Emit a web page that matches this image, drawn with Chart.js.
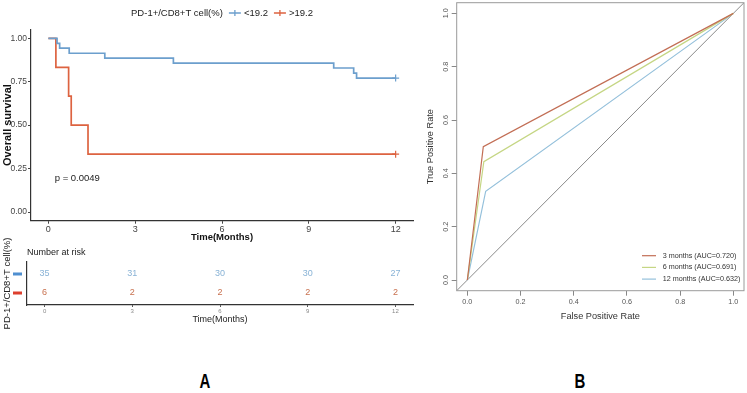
<!DOCTYPE html>
<html>
<head>
<meta charset="utf-8">
<script src="https://cdn.jsdelivr.net/npm/chart.js@4.4.1/dist/chart.umd.min.js"></script>
<style>
  body { margin: 0; background: #fff; width: 747px; height: 393px; position: relative; overflow: hidden;
         font-family: 'Liberation Sans', Arial, sans-serif; }
  .box { position: absolute; }
  .tag { position: absolute; font-weight: bold; font-size: 20px; color: #000;
         transform: translate(-50%, -50%) scaleX(0.75); }
</style>
</head>
<body>
<div class="box" style="left:0;top:0;width:420px;height:245px"><canvas id="km"></canvas></div>
<div class="box" style="left:0;top:225px;width:420px;height:107px"><canvas id="risk"></canvas></div>
<div class="box" style="left:420px;top:0;width:327px;height:330px"><canvas id="roc"></canvas></div>
<div class="tag" style="left:205px;top:381px">A</div>
<div class="tag" style="left:580px;top:381px">B</div>
<script>
// ---- panel A: survival curves ----
const groupNames = ['<19.2', '>19.2'];
const blueTimes = [0, 0.3, 0.39, 0.72, 1.95, 4.32, 9.86, 10.55, 10.65, 12];
const blueSurv  = [1, 0.971, 0.943, 0.914, 0.886, 0.857, 0.829, 0.8, 0.771, 0.771];
const redTimes  = [0, 0.26, 0.7, 0.79, 1.37, 12];
const redSurv   = [1, 0.833, 0.667, 0.5, 0.333, 0.333];
const survTicks = [0, 0.25, 0.5, 0.75, 1];
const survTickLabels = ['0.00', '0.25', '0.50', '0.75', '1.00'];
const monthTicks = [0, 3, 6, 9, 12];
const pValue = 'p = 0.0049';

// number at risk
const riskTimes = [0, 3, 6, 9, 12];
const riskBlue = [35, 31, 30, 30, 27];
const riskRed  = [6, 2, 2, 2, 2];

// ---- panel B: ROC ----
const rocTicks = [0, 0.2, 0.4, 0.6, 0.8, 1];
const rocTickLabels = ['0.0', '0.2', '0.4', '0.6', '0.8', '1.0'];
const fpr3  = [0, 0.06, 1];   const tpr3  = [0, 0.5, 1];
const fpr6  = [0, 0.062, 1];  const tpr6  = [0, 0.444, 1];
const fpr12 = [0, 0.069, 1];  const tpr12 = [0, 0.333, 1];
const rocLabels = ['3 months (AUC=0.720)', '6 months (AUC=0.691)', '12 months (AUC=0.632)'];
const diagLine = [-0.04, 1.04];

const FONT = "'Liberation Sans', Arial, sans-serif";
Chart.defaults.font.family = FONT;
Chart.defaults.color = '#444';

const BLUE = '#6C9FCD', RED = '#DD6340';
const pts = (xs, ys) => xs.map((x, i) => ({ x, y: ys[i] }));
const fixTicks = vals => scale => { scale.ticks = vals.map(v => ({ value: v })); };
const base = { responsive: true, maintainAspectRatio: false, animation: false, devicePixelRatio: 1 };

const kmExtras = {
  id: 'kmExtras',
  afterDraw(chart) {
    const { ctx, scales: { x, y } } = chart;
    ctx.save();
    ctx.font = '9.5px ' + FONT;
    ctx.textBaseline = 'middle';
    ctx.fillStyle = '#222';
    const title = 'PD-1+/CD8+T cell(%)';
    const sym = 12, gap = 3, space = 6;
    const items = chart.data.datasets.map(d => ({ text: d.label, color: d.borderColor }));
    let w = ctx.measureText(title).width;
    items.forEach(it => { w += space + sym + gap + ctx.measureText(it.text).width; });
    let lx = 222 - w / 2;
    const ly = 13;
    ctx.fillText(title, lx, ly);
    lx += ctx.measureText(title).width;
    items.forEach(it => {
      lx += space;
      ctx.strokeStyle = it.color;
      ctx.lineWidth = 1.3;
      ctx.beginPath();
      ctx.moveTo(lx, ly); ctx.lineTo(lx + sym, ly);
      ctx.moveTo(lx + sym / 2, ly - 3); ctx.lineTo(lx + sym / 2, ly + 3);
      ctx.stroke();
      lx += sym + gap;
      ctx.fillText(it.text, lx, ly);
      lx += ctx.measureText(it.text).width;
    });
    // p value
    ctx.fillText(pValue, x.getPixelForValue(0.22), y.getPixelForValue(0.196));
    ctx.restore();
  }
};

new Chart(document.getElementById('km'), {
  type: 'line',
  data: {
    datasets: [
      { label: groupNames[0], data: pts(blueTimes, blueSurv), borderColor: BLUE },
      { label: groupNames[1], data: pts(redTimes, redSurv), borderColor: RED }
    ].map(d => Object.assign(d, {
      stepped: true, borderWidth: 1.7, fill: false,
      pointStyle: 'cross', pointBorderColor: d.borderColor, pointBorderWidth: 1.2,
      pointRadius: c => c.dataIndex === c.dataset.data.length - 1 ? 3.5 : 0
    }))
  },
  options: {
    ...base,
    layout: { padding: { top: 29.6, left: 0, right: 7, bottom: 0 } },
    plugins: { legend: { display: false }, tooltip: { enabled: false } },
    scales: {
      x: {
        type: 'linear', min: -0.6, max: 12.6,
        afterBuildTicks: fixTicks(monthTicks),
        afterFit: s => { s.height = 24.3; },
        ticks: { font: { size: 9 }, padding: 0, color: '#444' },
        grid: { display: true, drawOnChartArea: false, tickLength: 3, color: '#444' },
        border: { display: true, color: '#333', width: 1.2 },
        title: { display: true, text: 'Time(Months)', color: '#111',
                 font: { size: 9.5, weight: 'bold' }, padding: { top: 0, bottom: 1.5 } }
      },
      y: {
        type: 'linear', min: -0.05, max: 1.05,
        afterBuildTicks: fixTicks(survTicks),
        afterFit: s => { s.width = 31; },
        ticks: { font: { size: 8.5 }, padding: 1, color: '#444',
                 callback: (v, i) => survTickLabels[i] },
        grid: { display: true, drawOnChartArea: false, tickLength: 3, color: '#444' },
        border: { display: true, color: '#333', width: 1.2 },
        title: { display: true, text: 'Overall survival', color: '#111',
                 font: { size: 11, weight: 'bold' }, padding: { top: 1.5, bottom: 0 } }
      }
    }
  },
  plugins: [kmExtras]
});

// ---- risk table ----
const riskExtras = {
  id: 'riskExtras',
  afterDatasetsDraw(chart) {
    const { ctx, chartArea: a, scales: { y } } = chart;
    ctx.save();
    ctx.textAlign = 'center';
    ctx.textBaseline = 'middle';
    ctx.font = '9px ' + FONT;
    chart.data.datasets.forEach((d, di) => {
      const meta = chart.getDatasetMeta(di);
      ctx.fillStyle = d.textColor;
      meta.data.forEach((p, i) => ctx.fillText(String(d.counts[i]), p.x, p.y));
      // coloured key on the y axis
      ctx.fillStyle = d.keyColor;
      ctx.fillRect(13, y.getPixelForValue(d.row) - 1.5, 9, 3);
    });
    ctx.textAlign = 'left';
    ctx.fillStyle = '#222';
    ctx.fillText('Number at risk', a.left, a.top - 9);
    ctx.restore();
  }
};

const riskSets = [
  { counts: riskBlue, row: 2, textColor: '#89B3D6', keyColor: '#4F8FD0' },
  { counts: riskRed,  row: 1, textColor: '#C8714F', keyColor: '#DD3F2E' }
];

new Chart(document.getElementById('risk'), {
  type: 'line',
  data: {
    datasets: riskSets.map(r => Object.assign({}, r, {
      data: riskTimes.map(t => ({ x: t, y: r.row })),
      showLine: false, pointRadius: 0
    }))
  },
  options: {
    ...base,
    layout: { padding: { top: 37, left: 0, right: 7, bottom: 0 } },
    plugins: { legend: { display: false }, tooltip: { enabled: false } },
    scales: {
      x: {
        type: 'linear', min: -0.6, max: 12.6,
        afterBuildTicks: fixTicks(riskTimes),
        afterFit: s => { s.height = 27; },
        ticks: { font: { size: 6 }, padding: 1, color: '#888' },
        grid: { display: true, drawOnChartArea: false, tickLength: 2, color: '#555' },
        border: { display: true, color: '#333', width: 1.2 },
        title: { display: true, text: 'Time(Months)', color: '#222',
                 font: { size: 9 }, padding: { top: 0, bottom: 6.6 } }
      },
      y: {
        type: 'linear', min: 0.37, max: 2.63,
        afterFit: s => { s.width = 27; },
        ticks: { display: false },
        grid: { display: false },
        border: { display: true, color: '#333', width: 1.2 },
        title: { display: true, text: 'PD-1+/CD8+T cell(%)', color: '#222',
                 font: { size: 9.5 }, padding: { top: 1.3, bottom: 0 } }
      }
    }
  },
  plugins: [riskExtras]
});

// ---- ROC ----
const rocExtras = {
  id: 'rocExtras',
  afterDraw(chart) {
    const { ctx, chartArea: a, scales: { y } } = chart;
    ctx.save();
    ctx.strokeStyle = '#9A9A9A';
    ctx.lineWidth = 1;
    ctx.strokeRect(a.left, a.top, a.right - a.left, a.bottom - a.top);
    // rotated y tick labels
    ctx.fillStyle = '#555';
    ctx.font = '7.2px ' + FONT;
    ctx.textAlign = 'center';
    ctx.textBaseline = 'middle';
    rocTicks.forEach((v, i) => {
      ctx.save();
      ctx.translate(a.left - 10.7, y.getPixelForValue(v));
      ctx.rotate(-Math.PI / 2);
      ctx.fillText(rocTickLabels[i], 0, 0);
      ctx.restore();
    });
    // legend
    ctx.textAlign = 'left';
    ctx.fillStyle = '#333';
    chart.data.datasets.filter(d => d.inLegend).forEach((d, i) => {
      const ly = 255.7 + i * 11.7;
      ctx.strokeStyle = d.borderColor;
      ctx.lineWidth = 1.2;
      ctx.beginPath();
      ctx.moveTo(222, ly); ctx.lineTo(236, ly);
      ctx.stroke();
      ctx.fillText(d.label, 242.7, ly);
    });
    ctx.restore();
  }
};

const rocLine = (label, xs, ys, color) => ({
  label, data: pts(xs, ys), borderColor: color, borderWidth: 1.2,
  pointRadius: 0, fill: false, tension: 0, inLegend: true
});

new Chart(document.getElementById('roc'), {
  type: 'line',
  data: {
    datasets: [
      rocLine(rocLabels[0], fpr3, tpr3, '#C26E55'),
      rocLine(rocLabels[1], fpr6, tpr6, '#C5D684'),
      rocLine(rocLabels[2], fpr12, tpr12, '#94C0DB'),
      { label: 'ref', data: pts(diagLine, diagLine), borderColor: '#8A8A8A', borderWidth: 1,
        pointRadius: 0, fill: false, inLegend: false }
    ]
  },
  options: {
    ...base,
    layout: { padding: { top: 2.7, left: 0, right: 3, bottom: 0 } },
    plugins: { legend: { display: false }, tooltip: { enabled: false } },
    scales: {
      x: {
        type: 'linear', min: -0.04, max: 1.04,
        afterBuildTicks: fixTicks(rocTicks),
        afterFit: s => { s.height = 39.3; },
        ticks: { font: { size: 7.2 }, padding: 1.7, color: '#555',
                 callback: (v, i) => rocTickLabels[i] },
        grid: { display: true, drawOnChartArea: false, tickLength: 5, color: '#888' },
        border: { display: false },
        title: { display: true, text: 'False Positive Rate', color: '#333',
                 font: { size: 9.2 }, padding: { top: 0, bottom: 8.5 } }
      },
      y: {
        type: 'linear', min: -0.04, max: 1.04,
        afterBuildTicks: fixTicks(rocTicks),
        afterFit: s => { s.width = 36.7; },
        ticks: { display: false },
        grid: { display: true, drawOnChartArea: false, tickLength: 5, color: '#888' },
        border: { display: false },
        title: { display: true, text: 'True Positive Rate', color: '#333',
                 font: { size: 9.2 }, padding: { top: 4.5, bottom: 0 } }
      }
    }
  },
  plugins: [rocExtras]
});
</script>
</body>
</html>
